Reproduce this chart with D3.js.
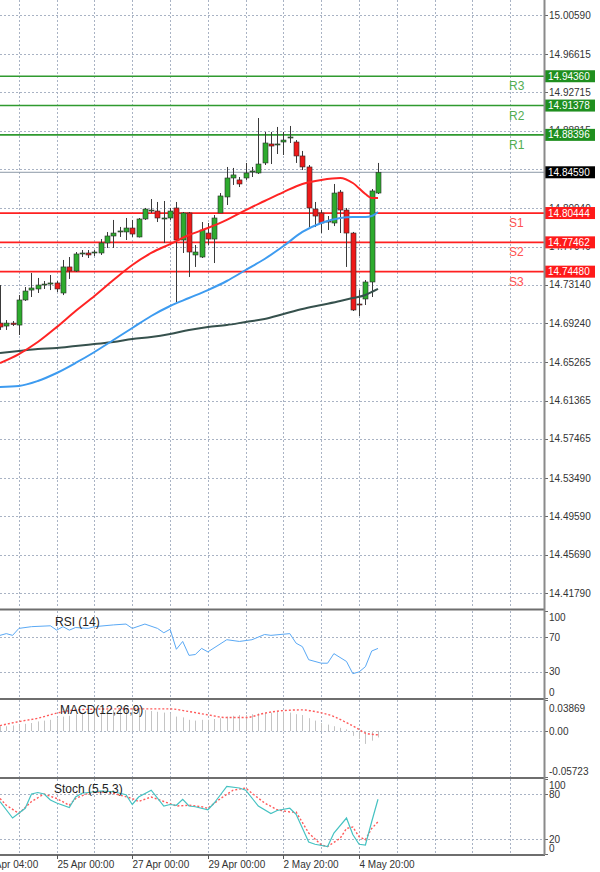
<!DOCTYPE html>
<html>
<head>
<meta charset="utf-8">
<script src="https://cdn.jsdelivr.net/npm/d3@7"></script>
<style>
body { margin: 0; background: #ffffff; }
text { font-family: "Liberation Sans", Arial, sans-serif; }
</style>
</head>
<body>
<svg id="chart"></svg>
<script>
// candles, 4H bars, index 0 .. 60
var open = [14.6925,14.6895,14.6925,14.6905,14.7160,14.7261,14.7272,14.7312,14.7322,14.7333,
14.7231,14.7496,14.7455,14.7628,14.7638,14.7638,14.7638,14.7740,14.7811,14.7852,
14.7852,14.7892,14.7801,14.7984,14.8065,14.8065,14.7984,14.7994,14.8096,14.7770,
14.8045,14.7618,14.7597,14.7841,14.7780,14.8045,14.8208,14.8401,14.8381,14.8401,
14.8462,14.8452,14.8554,14.8747,14.8737,14.8767,14.8808,14.8767,14.8625,14.8513,
14.8085,14.8045,14.7963,14.7943,14.8258,14.8075,14.7841,14.7119,14.7170,14.7343,
14.8248]
var high = [14.7312,14.6956,14.6946,14.7210,14.7292,14.7435,14.7384,14.7353,14.7414,14.7353,
14.7567,14.7597,14.7648,14.7668,14.7668,14.7668,14.7780,14.7851,14.7974,14.7903,
14.7994,14.7974,14.7994,14.8096,14.8187,14.8157,14.8167,14.8096,14.8157,14.8055,
14.8055,14.7719,14.7953,14.7943,14.8024,14.8248,14.8513,14.8503,14.8411,14.8554,
14.8513,14.9011,14.8869,14.8869,14.8920,14.8869,14.8930,14.8787,14.8676,14.8533,
14.8157,14.8075,14.8014,14.8340,14.8279,14.8096,14.7852,14.7261,14.7363,14.8289,
14.8554]
var low = [14.6855,14.6855,14.6895,14.6804,14.7150,14.7190,14.7231,14.7272,14.7261,14.7241,
14.7210,14.7374,14.7445,14.7597,14.7587,14.7607,14.7618,14.7689,14.7689,14.7801,
14.7770,14.7801,14.7796,14.7974,14.8045,14.7953,14.7740,14.7974,14.7139,14.7638,
14.7394,14.7496,14.7587,14.7719,14.7536,14.8045,14.8126,14.8330,14.8309,14.8381,
14.8411,14.8442,14.8533,14.8543,14.8645,14.8635,14.8757,14.8554,14.8482,14.7902,
14.7902,14.7841,14.7872,14.7912,14.7841,14.7496,14.7048,14.6997,14.7109,14.7190,
14.8238]
var close = [14.6885,14.6925,14.6910,14.7160,14.7251,14.7282,14.7312,14.7322,14.7333,14.7272,
14.7496,14.7455,14.7628,14.7638,14.7618,14.7648,14.7740,14.7811,14.7841,14.7862,
14.7892,14.7831,14.7984,14.8085,14.8075,14.7994,14.7994,14.8065,14.7770,14.8045,
14.7648,14.7648,14.7872,14.7780,14.7994,14.8218,14.8401,14.8432,14.8340,14.8452,
14.8472,14.8543,14.8757,14.8726,14.8747,14.8787,14.8818,14.8625,14.8513,14.8096,
14.8014,14.7943,14.7953,14.8248,14.8075,14.7841,14.7058,14.7109,14.7343,14.8269,
14.8459]

// moving averages read at these bars
var maBars = [0,3,6,9,12,15,18,21,24,27,30,33,36,39,42,45,48,51,54,56,58,59,60]
var maRed  = [14.6519,14.6610,14.6732,14.6884,14.7048,14.7201,14.7363,14.7516,14.7638,14.7729,14.7821,14.7892,14.7974,14.8075,14.8167,14.8258,14.8340,14.8381,14.8401,14.8350,14.8238,14.8197,14.8197]
var maBlue = [14.6275,14.6285,14.6336,14.6417,14.6519,14.6631,14.6753,14.6875,14.6997,14.7099,14.7180,14.7261,14.7353,14.7465,14.7577,14.7709,14.7852,14.7943,14.7994,14.8004,14.8004,14.8014,14.8055]
var maSlow = [14.6621,14.6641,14.6661,14.6671,14.6692,14.6712,14.6732,14.6763,14.6783,14.6814,14.6855,14.6885,14.6905,14.6936,14.6966,14.7017,14.7068,14.7109,14.7150,14.7180,14.7211,14.7241,14.7272]

var levelNames  = ["R3","R2","R1","S1","S2","S3"]
var levelValues = [14.94360,14.91378,14.88396,14.80444,14.77462,14.74480]
var currentPrice = 14.84590

// 14.84890 sits under the current price box: grid line only
var priceTicks = [15.00590,14.96615,14.92715,14.88815,14.84890,14.80940,14.77040,14.73140,14.69240,14.65265,14.61365,14.57465,14.53490,14.49590,14.45690,14.41790]
var hiddenTick = 14.84890

var dateBars   = [-3,9,21,33,45,57]
var dateLabels = ["21 Apr 04:00","25 Apr 00:00","27 Apr 00:00","29 Apr 00:00","2 May 20:00","4 May 20:00"]

// RSI(14)
var rsiBars = [0,1,2,3,5,8,9,10,11,12,14,15,18,20,21,23,25,26,27,28,29,30,31,32,33,36,38,40,42,43,46,47,48,49,51,52,53,55,56,57,58,59,60]
var rsiValues = [72,74,72,80,82,83,78,82,78,81,80,82,84,85,80,85,80,75,79,56,65,49,50,57,53,67,65,67,73,72,74,63,59,44,40,40,51,42,28,30,36,54,57]
var rsiTicks = [100,70,30,0]

// MACD(12,26,9)
var macdHist = [0.006,0.006,0.007,0.008,0.009,0.010,0.012,0.013,0.014,0.016,
0.018,0.019,0.021,0.022,0.023,0.024,0.025,0.026,0.026,0.027,
0.027,0.026,0.026,0.026,0.025,0.024,0.023,0.022,0.018,0.017,
0.014,0.013,0.014,0.014,0.015,0.016,0.018,0.019,0.020,0.020,
0.021,0.022,0.023,0.023,0.024,0.024,0.023,0.021,0.020,0.016,
0.013,0.010,0.008,0.006,0.004,0.002,-0.006,-0.010,-0.016,-0.012,
-0.008]
var macdSigBars = [0,3,6,9,12,18,24,27,30,33,36,39,42,45,48,50,53,55,57,58,60]
var macdSignal  = [0.0068,0.0118,0.0160,0.0223,0.0264,0.0276,0.0276,0.0276,0.0243,0.0202,0.0168,0.0168,0.0223,0.0255,0.0264,0.0243,0.0181,0.0105,0.0020,-0.0026,-0.0047]
var macdTicks = [0.03869,0.00,-0.05723]
var macdTickText = ["0.03869","0.00","-0.05723"]

// Stoch(5,5,3)
var stochBars = [0,2,4,5,6,7,8,9,11,12,13,16,18,20,21,22,24,26,27,28,29,30,31,33,34,35,36,38,39,41,43,44,46,47,49,50,52,53,55,56,57,58,59,60]
var stochMain = [70,48,61,80,82,80,72,68,62,76,81,84,83,79,66,76,85,64,66,65,73,64,63,59,68,79,90,88,85,64,54,58,61,53,16,13,10,28,48,26,13,12,43,73]
var stochSigBars = [0,1,3,5,7,9,11,12,14,16,18,21,22,24,26,28,30,32,33,35,37,39,40,42,44,46,47,49,51,52,54,55,56,57,58,59,60]
var stochSignal  = [74,65,54,70,80,74,65,74,81,83,81,74,70,76,70,64,65,63,61,74,85,88,81,68,59,56,56,28,12,10,21,34,36,23,19,34,43]
var stochTicks = [100,80,20,0]

//layout
var width = 600, height = 872
var plotW = 544
var fontAxis = 10

var svg = d3.select("#chart").attr("width", width).attr("height", height)

var x = d3.scaleLinear().domain([0, 86.35]).range([0, plotW])
var y = d3.scaleLinear().domain([14.40266, 15.02116]).range([608, 0])
var rsiY = d3.scaleLinear().domain([0, 100]).range([698, 611])
var macdY = d3.scaleLinear().domain([-0.05723, 0.03869]).range([777, 700])
var stochY = d3.scaleLinear().domain([0, 100]).range([854, 779])

var gridColor = "#a9b3c4"
var gridBars = d3.range(3, 87, 6)

function setText(g, px, py, size, txt, color, anchor) {
    return g.append("text")
        .attr("x", px)
        .attr("y", py)
        .attr("dy", "0.35em")
        .attr("font-size", size + "px")
        .attr("text-anchor", anchor || "start")
        .style("fill", color)
        .text(txt)
}

function hGrid(g, yy) {
    g.append("line")
        .attr("x1", 0).attr("x2", plotW)
        .attr("y1", Math.round(yy) + 0.5).attr("y2", Math.round(yy) + 0.5)
        .attr("stroke", gridColor).attr("stroke-width", 1)
        .attr("stroke-dasharray", "2,2")
}

function vGrid(g, y1, y2) {
    gridBars.forEach(function(b) {
        g.append("line")
            .attr("x1", Math.round(x(b)) + 0.5).attr("x2", Math.round(x(b)) + 0.5)
            .attr("y1", y1).attr("y2", y2)
            .attr("stroke", gridColor).attr("stroke-width", 1)
            .attr("stroke-dasharray", "2,2")
    })
}

function axisLabels(g, scale, ticks, texts, yMin, yMax) {
    ticks.forEach(function(t, i) {
        var yy = Math.min(Math.max(scale(t), yMin), yMax)
        g.append("line")
            .attr("x1", plotW).attr("x2", plotW + 4)
            .attr("y1", Math.round(scale(t)) + 0.5).attr("y2", Math.round(scale(t)) + 0.5)
            .attr("stroke", "#666")
        if (t === hiddenTick) return
        setText(g, plotW + 5, yy, fontAxis, texts ? texts[i] : t, "#333")
    })
}

// ---------------- main window
var main = svg.append("g")
var clipMain = svg.append("clipPath").attr("id", "clipMain")
clipMain.append("rect").attr("x", 0).attr("y", 0).attr("width", plotW).attr("height", 608)

vGrid(main, 0, 608)
priceTicks.forEach(function(t) { hGrid(main, y(t)) })

// current price line
main.append("line")
    .attr("x1", 0).attr("x2", plotW)
    .attr("y1", y(currentPrice)).attr("y2", y(currentPrice))
    .attr("stroke", "#8d9aa8").attr("stroke-width", 1)

// pivot levels
levelValues.forEach(function(v, i) {
    var isR = levelNames[i].charAt(0) == "R"
    main.append("line")
        .attr("x1", 0).attr("x2", plotW)
        .attr("y1", y(v)).attr("y2", y(v))
        .attr("stroke", isR ? "#2f9a2f" : "#ff2020")
        .attr("stroke-width", isR ? 1.6 : 1.8)
    main.append("text")
        .attr("x", 509).attr("y", y(v) + 14)
        .attr("font-size", "12px")
        .style("fill", isR ? "#52ad52" : "#ff5252")
        .text(levelNames[i])
})

// candles
var candles = main.append("g").attr("clip-path", "url(#clipMain)")
open.forEach(function(o, i) {
    var c = close[i]
    var cx = Math.round(x(i)) + 0.5
    candles.append("line")
        .attr("x1", cx).attr("x2", cx)
        .attr("y1", y(high[i])).attr("y2", y(low[i]))
        .attr("stroke", "#3a3a3a").attr("stroke-width", 1)
    var top = y(Math.max(o, c)), bot = y(Math.min(o, c))
    candles.append("rect")
        .attr("x", cx - 2.5).attr("width", 5)
        .attr("y", top).attr("height", Math.max(1, bot - top))
        .attr("fill", c >= o ? "#2eab2e" : "#ee1a1a")
        .attr("stroke", "#2a2a2a").attr("stroke-width", 0.6)
})

// moving averages
function maLine(vals, color) {
    var line = d3.line()
        .x(function(d, i) { return x(maBars[i]) })
        .y(function(d) { return y(d) })
        .curve(d3.curveMonotoneX)
    candles.append("path")
        .attr("d", line(vals))
        .attr("fill", "none")
        .attr("stroke", color)
        .attr("stroke-width", 2)
}
maLine(maSlow, "#36514d")
maLine(maBlue, "#3d9bf0")
maLine(maRed, "#ff2424")

// price axis labels
axisLabels(main, y, priceTicks, priceTicks.map(function(t) { return t.toFixed(5) }), 6, 602)

// level boxes
function priceBox(v, fill, txt) {
    main.append("rect")
        .attr("x", plotW + 1).attr("y", y(v) - 6)
        .attr("width", 50).attr("height", 12)
        .attr("fill", fill)
    setText(main, plotW + 4, y(v), fontAxis, txt, "#ffffff")
}
levelValues.forEach(function(v, i) {
    priceBox(v, levelNames[i].charAt(0) == "R" ? "#1f8f1f" : "#ff1a1a", v.toFixed(5))
})
priceBox(currentPrice, "#000000", currentPrice.toFixed(5))

// ---------------- RSI
var rsi = svg.append("g")
vGrid(rsi, 611, 698)
hGrid(rsi, rsiY(70))
hGrid(rsi, rsiY(30))
rsi.append("path")
    .attr("d", d3.line()
        .x(function(d, i) { return x(rsiBars[i]) })
        .y(function(d) { return rsiY(d) })(rsiValues))
    .attr("fill", "none").attr("stroke", "#5aa9f5").attr("stroke-width", 1)
rsi.append("text").attr("x", 55).attr("y", 626).attr("font-size", "12px").style("fill", "#222").text("RSI (14)")
axisLabels(rsi, rsiY, rsiTicks, null, 617, 692)

// ---------------- MACD
var macd = svg.append("g")
vGrid(macd, 700, 777)
hGrid(macd, macdY(0))
macdHist.forEach(function(v, i) {
    macd.append("line")
        .attr("x1", Math.round(x(i)) + 0.5).attr("x2", Math.round(x(i)) + 0.5)
        .attr("y1", macdY(0)).attr("y2", macdY(v))
        .attr("stroke", "#c4c4c4").attr("stroke-width", 1)
})
macd.append("path")
    .attr("d", d3.line()
        .x(function(d, i) { return x(macdSigBars[i]) })
        .y(function(d) { return macdY(d) })
        .curve(d3.curveMonotoneX)(macdSignal))
    .attr("fill", "none").attr("stroke", "#ff5a5a").attr("stroke-width", 1.4)
    .attr("stroke-dasharray", "2,2")
macd.append("text").attr("x", 60).attr("y", 714).attr("font-size", "12px").style("fill", "#222").text("MACD(12,26,9)")
axisLabels(macd, macdY, macdTicks, macdTickText, 708, 771)

// ---------------- Stochastic
var stoch = svg.append("g")
vGrid(stoch, 779, 854)
hGrid(stoch, stochY(80))
hGrid(stoch, stochY(20))
stoch.append("path")
    .attr("d", d3.line()
        .x(function(d, i) { return x(stochSigBars[i]) })
        .y(function(d) { return stochY(d) })(stochSignal))
    .attr("fill", "none").attr("stroke", "#ff5a5a").attr("stroke-width", 1.4)
    .attr("stroke-dasharray", "2,2")
stoch.append("path")
    .attr("d", d3.line()
        .x(function(d, i) { return x(stochBars[i]) })
        .y(function(d) { return stochY(d) })(stochMain))
    .attr("fill", "none").attr("stroke", "#45c2c2").attr("stroke-width", 1.2)
stoch.append("text").attr("x", 54).attr("y", 793).attr("font-size", "12px").style("fill", "#222").text("Stoch (5,5,3)")
axisLabels(stoch, stochY, stochTicks, null, 785, 848)

// ---------------- frames
var frame = svg.append("g")
;[609.5, 699, 778, 855].forEach(function(yy) {
    frame.append("line")
        .attr("x1", 0).attr("x2", plotW + 1)
        .attr("y1", yy).attr("y2", yy)
        .attr("stroke", "#6e6e6e").attr("stroke-width", 2)
})
frame.append("line")
    .attr("x1", plotW + 0.5).attr("x2", plotW + 0.5)
    .attr("y1", 0).attr("y2", 855)
    .attr("stroke", "#8a8a8a").attr("stroke-width", 2)

// date axis
dateBars.forEach(function(b, i) {
    var px = Math.round(x(b)) + 0.5
    frame.append("line")
        .attr("x1", px).attr("x2", px)
        .attr("y1", 855).attr("y2", 859)
        .attr("stroke", "#555")
    setText(frame, px, 864, fontAxis, dateLabels[i], "#333")
})
</script>
</body>
</html>
